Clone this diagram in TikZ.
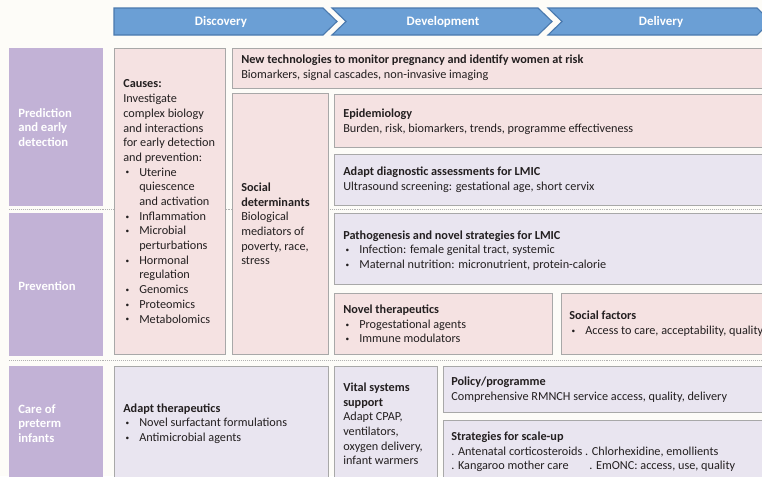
\documentclass[tikz,border=0pt]{standalone}
\usepackage{fontspec}
\setmainfont{Carlito}
\definecolor{pagebg}{HTML}{FDFCF8}
\definecolor{boxpink}{HTML}{F5E2E2}
\definecolor{boxlilac}{HTML}{E9E5F0}
\definecolor{boxline}{HTML}{A8A8A8}
\definecolor{rowpurple}{HTML}{C2B2D6}
\definecolor{headblue}{HTML}{6B9FD5}
\definecolor{headline}{HTML}{4A79AE}
\definecolor{textdark}{HTML}{231F20}
\newcommand{\itm}{\makebox[0.4cm][l]{\hspace{0.06cm}\raisebox{0.2ex}{\scalebox{0.6}{\textbullet}}}}
\newcommand{\ind}{\hspace*{0.4cm}}

\begin{document}
\begin{tikzpicture}[x=0.025cm, y=-0.025cm,
    pinkbox/.style={draw=boxline, fill=boxpink, line width=0.6pt},
    lilacbox/.style={draw=boxline, fill=boxlilac, line width=0.6pt},
    stage/.style={draw=headline, fill=headblue, line width=0.8pt},
    sepline/.style={draw=black!30, line width=1.2pt, dash pattern=on 0.5pt off 0.9pt},
    txt/.style={anchor=west, align=left, inner sep=0pt, text=textdark,
      font=\fontsize{8.7}{10.45}\selectfont},
    rowtxt/.style={anchor=west, align=left, inner sep=0pt, text=white,
      font=\fontsize{9}{10.45}\selectfont\bfseries},
    headtxt/.style={inner sep=0pt, text=white, font=\fontsize{9.2}{10}\selectfont\bfseries}]
      \useasboundingbox (0,0) rectangle (762,476);
      \fill[pagebg] (0,0) rectangle (762,476);
      \clip (0,0) rectangle (762,476);

      \draw[stage] (114,8) -- (323,8) -- (337,21.5) -- (323,35) -- (114,35) -- cycle;
      \draw[stage] (332,8) -- (538,8) -- (552,21.5) -- (538,35) -- (332,35) -- (346,21.5) -- cycle;
      \draw[stage] (548,8) -- (757,8) -- (771,21.5) -- (757,35) -- (548,35) -- (562,21.5) -- cycle;
      \node[headtxt] (discovery) at (221,21.5) {Discovery};
      \node[headtxt] (development) at (443,21.5) {Development};
      \node[headtxt] (delivery) at (661,21.5) {Delivery};

      \fill[rowpurple] (9,48) rectangle (103,206);
      \fill[rowpurple] (9,213) rectangle (103,356);
      \fill[rowpurple] (9,366) rectangle (103,490);
      \node[rowtxt] (prediction) at (18,127.5) {Prediction\\and early\\detection};
      \node[rowtxt] (prevention) at (18,286) {Prevention};
      \node[rowtxt] (care) at (18,423.5) {Care of\\preterm\\infants};

      \draw[sepline] (9,209.5) -- (762,209.5);
      \draw[sepline] (9,360.5) -- (762,360.5);

      \draw[pinkbox] (114,48) rectangle (225,354);
      \draw[pinkbox] (232,48) rectangle (780,88);
      \draw[pinkbox] (232,93) rectangle (328,354);
      \draw[pinkbox] (334,94) rectangle (780,147);
      \draw[lilacbox] (334,154) rectangle (780,205);
      \draw[lilacbox] (334,213) rectangle (780,284);
      \draw[pinkbox] (334,293) rectangle (552,354);
      \draw[pinkbox] (561,293) rectangle (780,354);
      \draw[lilacbox] (114,366) rectangle (328,490);
      \draw[lilacbox] (334,366) rectangle (437,490);
      \draw[lilacbox] (443,366) rectangle (780,412);
      \draw[lilacbox] (443,420) rectangle (780,490);

      \node[txt] (causes) at (123,201.5) {\textbf{Causes:}\\Investigate\\complex biology\\and interactions\\for early detection\\and prevention:\\
        \itm Uterine\\\ind quiescence\\\ind and activation\\\itm Inflammation\\\itm Microbial\\\ind perturbations\\
        \itm Hormonal\\\ind regulation\\\itm Genomics\\\itm Proteomics\\\itm Metabolomics};
      \node[txt] (newtech) at (241,68) {\textbf{New technologies to monitor pregnancy and identify women at risk}\\Biomarkers, signal cascades, non-invasive imaging};
      \node[txt] (socdet) at (241,224) {\textbf{Social}\\\textbf{determinants}\\Biological\\mediators of\\poverty, race,\\stress};
      \node[txt] (epidem) at (343,122) {\textbf{Epidemiology}\\Burden, risk, biomarkers, trends, programme effectiveness};
      \node[txt] (diagnostic) at (343,180) {\textbf{Adapt diagnostic assessments for LMIC}\\Ultrasound screening: gestational age, short cervix};
      \node[txt] (pathogen) at (343,250.5) {\textbf{Pathogenesis and novel strategies for LMIC}\\\itm Infection: female genital tract, systemic\\\itm Maternal nutrition: micronutrient, protein-calorie};
      \node[txt] (noveltx) at (343,324) {\textbf{Novel therapeutics}\\\itm Progestational agents\\\itm Immune modulators};
      \node[txt] (socfact) at (569,324) {\textbf{Social factors}\\\itm Access to care, acceptability, quality};
      \node[txt] (adapttx) at (123,423.5) {\textbf{Adapt therapeutics}\\\itm Novel surfactant formulations\\\itm Antimicrobial agents};
      \node[txt] (vital) at (343,424) {\textbf{Vital systems}\\\textbf{support}\\Adapt CPAP,\\ventilators,\\oxygen delivery,\\infant warmers};
      \node[txt] (policy) at (451,390) {\textbf{Policy/programme}\\Comprehensive RMNCH service access, quality, delivery};
      \node[txt] (scaleup) at (451,452) {\textbf{Strategies for scale-up}\\. Antenatal corticosteroids . Chlorhexidine, emollients\\
        \makebox[3.45cm][l]{. Kangaroo mother care}. EmONC: access, use, quality};
    \end{tikzpicture}
\end{document}
